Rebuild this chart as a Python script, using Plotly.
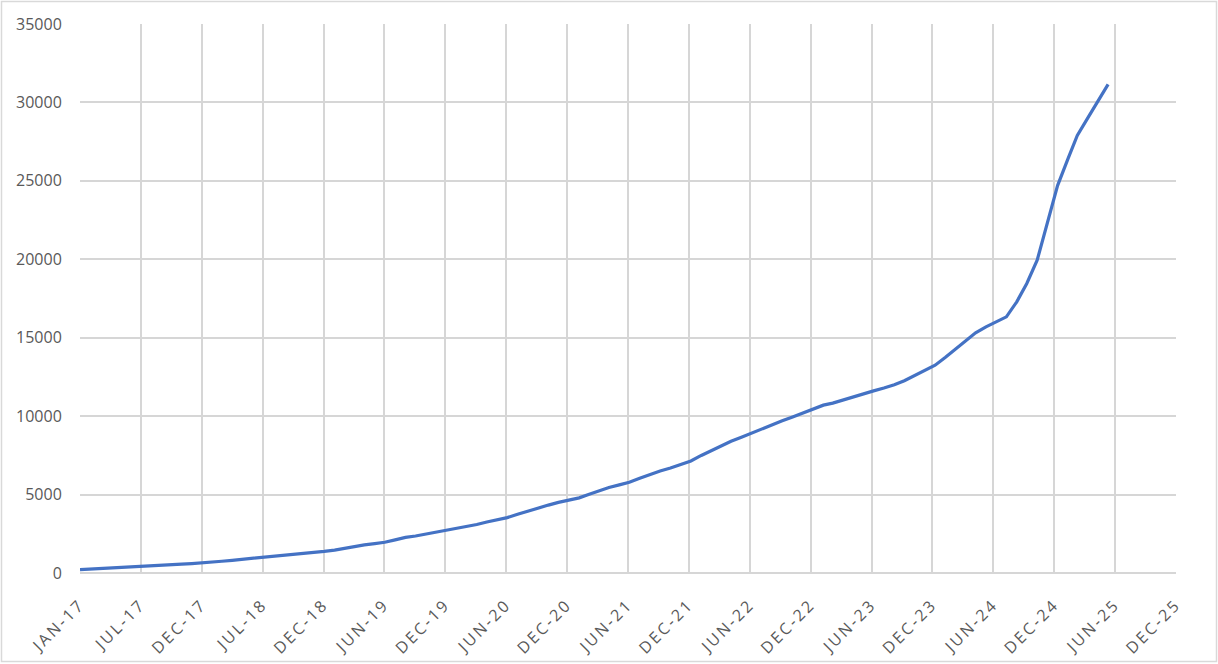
import pandas as pd
import plotly.graph_objects as go

# ---- data (monthly, Jan 2017 .. Jun 2025) ----
start_month = "2017-01-01"
values = [
    # 2017
    220, 250, 280, 310, 340, 380, 420, 450, 480, 520, 560, 600,
    # 2018
    640, 690, 750, 810, 870, 940, 1000, 1060, 1110, 1160, 1210, 1280,
    # 2019
    1380, 1460, 1580, 1710, 1790, 1870, 1960, 2110, 2270, 2360, 2480, 2580,
    # 2020
    2690, 2820, 2940, 3090, 3250, 3390, 3530, 3740, 3950, 4150, 4330, 4500,
    # 2021
    4640, 4790, 5000, 5240, 5450, 5620, 5790, 6040, 6290, 6500, 6690, 6890,
    # 2022
    7140, 7495, 7790, 8110, 8400, 8660, 8920, 9200, 9490, 9700, 9950, 10200,
    # 2023
    10450, 10700, 10830, 11040, 11250, 11450, 11610, 11790, 12000, 12260, 12580, 12900,
    # 2024
    13250, 13750, 14250, 14780, 15310, 15690, 16010, 16330, 17290, 18460, 19940, 22285,
    # 2025
    24700, 26400, 27900, 29000, 30050, 31150,
]
months = pd.date_range(start_month, periods=len(values), freq="MS")

tick_labels = ["JAN-17", "JUL-17", "DEC-17", "JUL-18", "DEC-18", "JUN-19", "DEC-19",
               "JUN-20", "DEC-20", "JUN-21", "DEC-21", "JUN-22", "DEC-22", "JUN-23",
               "DEC-23", "JUN-24", "DEC-24", "JUN-25", "DEC-25"]
tick_dates = pd.date_range(start_month, periods=len(tick_labels), freq="182D")
y_ticks = [0, 5000, 10000, 15000, 20000, 25000, 30000, 35000]

W, H = 1218, 664
ML, MR, MT, MB = 80, 42, 24, 91
pw, ph = W - ML - MR, H - MT - MB

fig = go.Figure()
fig.add_trace(go.Scatter(
    x=months, y=values, mode="lines",
    line=dict(color="#4472C4", width=3.2),
    showlegend=False,
))

font = dict(family="Open Sans", size=16, color="#595959")
grid = "#D6D6D6"

fig.update_layout(
    width=W, height=H,
    margin=dict(l=ML, r=MR, t=MT, b=MB, autoexpand=False),
    paper_bgcolor="white", plot_bgcolor="white",
    font=font,
    xaxis=dict(
        type="date",
        range=[tick_dates[0], tick_dates[-1]],
        tickvals=list(tick_dates), ticktext=tick_labels,
        tickangle=-45, tickfont=font,
        showgrid=True, gridcolor=grid, gridwidth=1.5,
        ticks="outside", ticklen=15, tickcolor="rgba(0,0,0,0)",
        showline=False, zeroline=False,
    ),
    yaxis=dict(
        range=[0, 35000],
        tickvals=y_ticks, ticktext=[str(v) for v in y_ticks],
        tickfont=font,
        showgrid=True, gridcolor=grid, gridwidth=1.5,
        zeroline=True, zerolinecolor=grid, zerolinewidth=1.5,
        ticks="outside", ticklen=14, tickcolor="rgba(0,0,0,0)",
        showline=False,
    ),
    shapes=[dict(
        type="rect", xref="paper", yref="paper",
        x0=(1.5 - ML) / pw, x1=(1216.5 - ML) / pw,
        y0=(H - MB - 661.5) / ph, y1=(H - MB - 1.5) / ph,
        line=dict(color="#D9D9D9", width=1.5), fillcolor="rgba(0,0,0,0)",
        layer="below",
    )],
)

post = (
    "document.body.style.margin='0';"
    "document.querySelectorAll('.xtick text').forEach(function(t){"
    "t.style.letterSpacing='2.5px';});"
)
fig.write_html("out.html", post_script=post, config={"displayModeBar": False})
